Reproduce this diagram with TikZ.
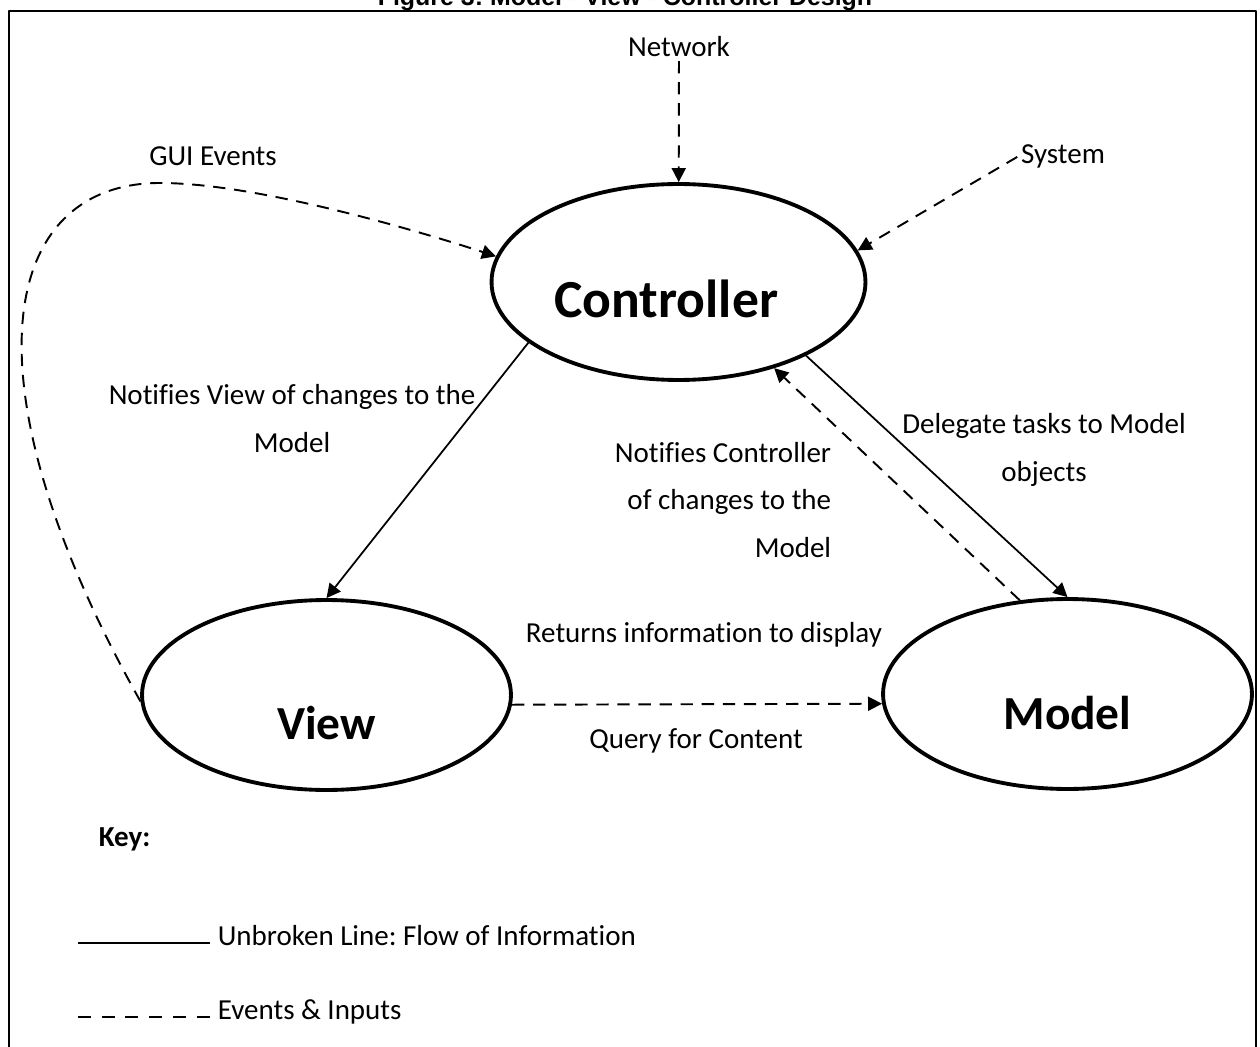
\documentclass[tikz,border=0pt]{standalone}
\usepackage{fontspec}
\setmainfont{Carlito}[Ligatures=NoCommon]
\newfontfamily\titlefont{Liberation Sans}
\usetikzlibrary{shapes.geometric,arrows.meta}
\frenchspacing
\begin{document}
\begin{tikzpicture}[x=0.02cm,y=-0.02cm,line join=round,
	font=\fontsize{16.5}{27.3}\selectfont,
	>={Triangle[length=8pt,width=8pt]},
	part/.style={ellipse,draw,line width=2.2pt,minimum width=7.38cm,
		minimum height=3.8cm,font=\bfseries\fontsize{27}{30}\selectfont,
		text height=40pt,text depth=0pt},
	lbl/.style={inner sep=2pt},
	flow/.style={line width=1pt,->},
	evt/.style={line width=1.1pt,dash pattern=on 7pt off 5pt,->}]
	\useasboundingbox (0,0) rectangle (1260,1047);
	\draw[line width=1.4pt] (9,1080) |- (1256,11) -- (1256,1080);
	\node[anchor=base,font=\titlefont\bfseries\fontsize{14.2}{17}\selectfont]
		(title) at (625,6) {Figure 3: Model - View - Controller Design};
	\node[part,minimum width=7.48cm,minimum height=3.92cm,
		font=\bfseries\fontsize{30.5}{33}\selectfont] (ctrl) at (678.5,282)
		{Controller\hspace*{14pt}};
	\node[part,text height=51pt] (view) at (326.5,695) {View};
	\node[part] (model) at (1067.5,694) {Model};
	\node[lbl,anchor=base] (net) at (679,57) {Network};
	\node[lbl,anchor=base] (sys) at (1063,164) {System};
	\node[lbl,anchor=base] (gui) at (213,166) {GUI Events};
	\node[lbl,align=center] (nview) at (292,419)
		{Notifies View of changes to the\\Model};
	\node[lbl,align=right,anchor=east] (nctrl) at (835,500)
		{Notifies Controller\\of changes to the\\Model};
	\node[lbl,align=center] (deleg) at (1044,450)
		{Delegate tasks to Model\\objects};
	\node[lbl,anchor=base] (ret) at (704,642) {Returns information to display};
	\node[lbl,anchor=base] (query) at (696,748) {Query for Content};
	\node[lbl,anchor=base west,font=\bfseries\fontsize{16.5}{20}\selectfont]
		(key) at (95,846) {Key:};
	\draw[evt] (net) -- (ctrl);
	\draw[evt] (sys.west) -- (ctrl.10);
	\draw[evt] (view.182) .. controls (-40,380) and (0,183) .. (160,183)
		.. controls (250,183) and (400,225) .. (ctrl.172);
	\draw[flow] (ctrl.202) -- (view.north);
	\draw[flow] (ctrl.330) -- (model.north);
	\draw[evt] (model.117) -- (ctrl.318);
	\draw[evt] (view.-3) -- (model.183);
	\path (78,943) coordinate (s1)
		(210,943) coordinate (s2)
		(78,1017) coordinate (d1)
		(210,1017) coordinate (d2);
	\draw[line width=1.5pt] (s1) -- (s2);
	\draw[line width=1.5pt,dash pattern=on 7.4pt off 6.1pt] (d1) -- (d2);
	\node[lbl,anchor=base west] (kflow) at (214,945)
		{Unbroken Line: Flow of Information};
	\node[lbl,anchor=base west] (kevt) at (214,1019) {Events \& Inputs};
\end{tikzpicture}
\end{document}
